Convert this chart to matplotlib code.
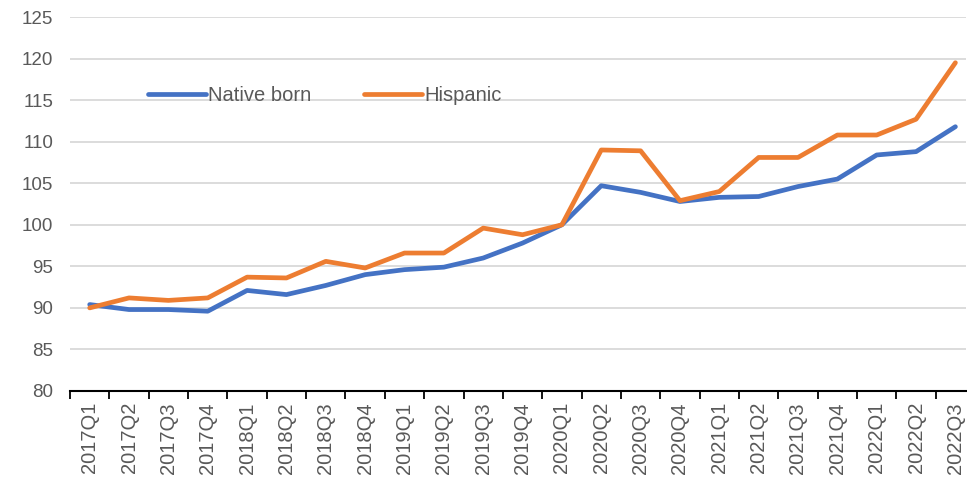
import matplotlib.pyplot as plt
from matplotlib.ticker import FixedLocator, MultipleLocator

# quarters on the x axis
quarters = ['2017Q1', '2017Q2', '2017Q3', '2017Q4',
            '2018Q1', '2018Q2', '2018Q3', '2018Q4',
            '2019Q1', '2019Q2', '2019Q3', '2019Q4',
            '2020Q1', '2020Q2', '2020Q3', '2020Q4',
            '2021Q1', '2021Q2', '2021Q3', '2021Q4',
            '2022Q1', '2022Q2', '2022Q3']

# index values (2020Q1 = 100)
native_born = [90.4, 89.8, 89.8, 89.6, 92.1, 91.6, 92.7, 94.0,
               94.6, 94.9, 96.0, 97.8, 100.0, 104.7, 103.9, 102.8,
               103.3, 103.4, 104.6, 105.5, 108.4, 108.8, 111.8]
hispanic = [90.0, 91.2, 90.9, 91.2, 93.7, 93.6, 95.6, 94.8,
            96.6, 96.6, 99.6, 98.8, 100.0, 109.0, 108.9, 102.9,
            104.0, 108.1, 108.1, 110.8, 110.8, 112.7, 119.5]

plt.rcParams['font.family'] = ['Liberation Sans', 'DejaVu Sans']

fig = plt.figure(figsize=(9.67, 4.86), dpi=100)
ax = fig.add_axes([0.0724, 0.1955, 0.927, 0.7695])

x = range(len(quarters))
ax.plot(x, native_born, color='#4472C4', lw=3.4, label='Native born',
        solid_capstyle='round')
ax.plot(x, hispanic, color='#ED7D31', lw=3.4, label='Hispanic',
        solid_capstyle='round')

ax.set_ylim(80, 125)
ax.set_xlim(-0.5, 22.28)
ax.yaxis.set_major_locator(MultipleLocator(5))
ax.grid(axis='y', color='#d9d9d9', lw=1.3)
ax.set_axisbelow(True)

ax.set_xticks(list(x))
ax.set_xticklabels(quarters, rotation=90, fontsize=14.5, color='#595959')
ax.xaxis.set_minor_locator(FixedLocator([i - 0.5 for i in range(len(quarters) + 1)]))
ax.tick_params(axis='x', which='major', length=0, pad=8)
ax.tick_params(axis='x', which='minor', length=6, width=1.3, color='black')
ax.tick_params(axis='y', length=0, labelsize=13.5, labelcolor='#595959', pad=12)

for side in ['left', 'right', 'top']:
    ax.spines[side].set_visible(False)
ax.spines['bottom'].set_linewidth(1.5)

ax.legend(loc='center left', bbox_to_anchor=(0.087, 0.789), frameon=False,
          ncol=2, fontsize=14.5, handlelength=2.9, handletextpad=0.1,
          columnspacing=2.6, borderpad=0, borderaxespad=0,
          labelcolor='#595959')

fig.savefig('out.png', dpi=100)
